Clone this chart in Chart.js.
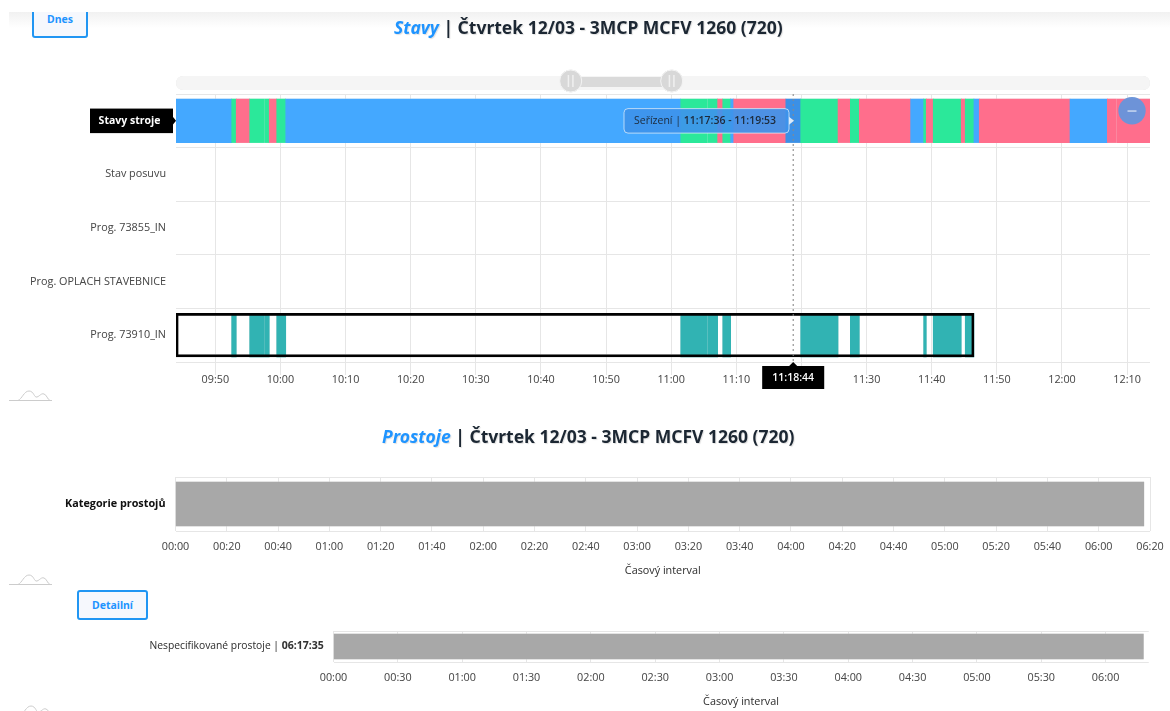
<!DOCTYPE html>
<html lang="cs">
<head>
<meta charset="utf-8">
<title>Stavy a prostoje</title>
<script src="https://cdn.jsdelivr.net/npm/chart.js@4"></script>
<style>
  html, body { margin: 0; padding: 0; background: #fff; overflow: hidden; }
  #page { position: relative; width: 1170px; height: 711px; filter: blur(0.35px); font-family: "Noto Sans", sans-serif; overflow: hidden; }
  #band { position: absolute; left: 9px; right: 0; top: 12px; height: 16px; background: linear-gradient(#f1f1f1, #fff); }
  canvas { position: absolute; left: 0; filter: drop-shadow(.5px .5px .6px rgba(0,0,0,.12)); }
  .btn { position: absolute; box-sizing: border-box; border: 2px solid #2196f3; border-radius: 3px; background: #f6f8fd; color: #1f94ff; font-weight: 700; font-size: 10.5px; text-align: center; }
  #dnes { left: 32px; top: 4px; width: 56px; height: 34px; line-height: 27px; clip-path: inset(8px -2px -2px -2px); }
  #detail { left: 77px; top: 590px; width: 71px; height: 30px; line-height: 26px; }
  h2 { position: absolute; margin: 0; font-size: 17.5px; font-weight: 700; color: #1c2733; white-space: nowrap; text-shadow: 1px 1px 1px rgba(0,0,0,.12); }
  h2 i { color: #1f94ff; }
  svg { position: absolute; }
</style>
</head>
<body>
<div id="page">
  <div id="band"></div>
  <div id="dnes" class="btn">Dnes</div>
  <h2 style="left:394px;top:15px"><i>Stavy</i> | Čtvrtek 12/03 - 3MCP MCFV 1260 (720)</h2>
  <h2 style="left:382px;top:424px"><i>Prostoje</i> | Čtvrtek 12/03 - 3MCP MCFV 1260 (720)</h2>
  <canvas id="stateChart" width="1170" height="345" style="top:60px"></canvas>
  <canvas id="categoryChart" width="1170" height="117" style="top:460px"></canvas>
  <div id="detail" class="btn">Detailní</div>
  <canvas id="detailChart" width="1170" height="86" style="top:622px"></canvas>
  <svg style="left:9px;top:388px" width="44" height="14"><path d="M0 12.5H43M9 12.5C13 11 15 3 20 3S25 10 28 9 32 5 35 6 38 11 41 12.5" fill="none" stroke="#ccc"/></svg>
  <svg style="left:9px;top:572px" width="44" height="14"><path d="M0 12.5H43M9 12.5C13 11 15 3 20 3S25 10 28 9 32 5 35 6 38 11 41 12.5" fill="none" stroke="#ccc"/></svg>
  <svg style="left:11px;top:703px" width="44" height="14"><path d="M0 12.5H43M9 12.5C13 11 15 3 20 3S25 10 28 9 32 5 35 6 38 11 41 12.5" fill="none" stroke="#ccc"/></svg>
</div>
<script>
const rowLabels = ["Stavy stroje", "Stav posuvu", "Prog. 73855_IN", "Prog. OPLACH STAVEBNICE", "Prog. 73910_IN"];

const stateStarts = ["09:43:58", "09:52:31", "09:53:13", "09:55:17", "09:57:34", "09:58:17", "09:59:26", "10:00:49", "11:01:28", "11:05:39", "11:07:08", "11:07:55", "11:09:08", "11:09:36", "11:17:36", "11:19:53", "11:25:37", "11:27:30", "11:28:53", "11:36:46", "11:38:46", "11:39:10", "11:40:14", "11:44:32", "11:45:09", "11:46:29", "11:47:18", "12:01:14", "12:06:58", "12:08:27"];
const stateEnds = ["09:52:31", "09:53:13", "09:55:17", "09:57:28", "09:58:17", "09:59:26", "10:00:49", "11:01:28", "11:05:33", "11:07:08", "11:07:55", "11:09:08", "11:09:36", "11:17:36", "11:19:53", "11:25:37", "11:27:30", "11:28:53", "11:36:46", "11:38:46", "11:39:10", "11:40:14", "11:44:32", "11:45:09", "11:46:29", "11:47:18", "12:01:14", "12:06:58", "12:08:21", "12:13:31"];
const stateNames = ["Seřízení", "Výroba", "Prostoj", "Výroba", "Výroba", "Prostoj", "Výroba", "Seřízení", "Výroba", "Výroba", "Prostoj", "Výroba", "Seřízení", "Prostoj", "Seřízení", "Výroba", "Prostoj", "Výroba", "Prostoj", "Seřízení", "Výroba", "Prostoj", "Výroba", "Prostoj", "Výroba", "Seřízení", "Prostoj", "Seřízení", "Prostoj", "Prostoj"];

const programStarts = ["09:52:31", "09:55:17", "09:57:34", "09:59:26", "11:01:28", "11:05:39", "11:07:55", "11:19:53", "11:27:30", "11:38:46", "11:40:14", "11:45:09"];
const programEnds = ["09:53:13", "09:57:28", "09:58:17", "10:00:49", "11:05:33", "11:07:08", "11:09:08", "11:25:37", "11:28:53", "11:39:10", "11:44:32", "11:46:29"];

const stateTicks = ["09:50", "10:00", "10:10", "10:20", "10:30", "10:40", "10:50", "11:00", "11:10", "11:20", "11:30", "11:40", "11:50", "12:00", "12:10"];
const categoryTicks = ["00:00", "00:20", "00:40", "01:00", "01:20", "01:40", "02:00", "02:20", "02:40", "03:00", "03:20", "03:40", "04:00", "04:20", "04:40", "05:00", "05:20", "05:40", "06:00", "06:20"];
const detailTicks = ["00:00", "00:30", "01:00", "01:30", "02:00", "02:30", "03:00", "03:30", "04:00", "04:30", "05:00", "05:30", "06:00"];

const downtimeLabel = "Kategorie prostojů";
const downtimeName = "Nespecifikované prostoje";
const downtimeTotal = "06:17:35";
const pointerTime = "11:18:44";

const stateColors = { "Seřízení": "#44a8ff", "Výroba": "#2be89a", "Prostoj": "#ff6e8c" };
const gridColor = "#e6e6e6";
const tickFont = { family: "Open Sans", size: 10.8 };
const boldFont = "700 10.5px 'Open Sans'";
const textFont = "10.3px 'Open Sans'";

// clock text to minutes from midnight
function toMin(t) {
  const [h, m, s = 0] = t.split(":").map(Number);
  return h * 60 + m + s / 60;
}
function fmtTick(v) {
  const h = Math.floor(v / 60), m = Math.round(v - h * 60);
  return String(h).padStart(2, "0") + ":" + String(m).padStart(2, "0");
}
// writes text made of several font runs, starting from x
function drawRuns(ctx, runs, x, y) {
  ctx.textAlign = "left";
  ctx.textBaseline = "middle";
  runs.forEach(r => {
    ctx.font = r.font;
    ctx.fillText(r.text, x, y);
    x += ctx.measureText(r.text).width;
  });
}
function xAxis(ticks, min, max, height, extra) {
  return Object.assign({
    type: "linear",
    min: min,
    max: max,
    border: { display: false },
    grid: { color: gridColor, drawTicks: false },
    afterBuildTicks: a => { a.ticks = ticks.map(t => ({ value: toMin(t) })); },
    afterFit: a => { a.height = height; a.paddingLeft = a.paddingRight = 0; },
    ticks: { font: tickFont, color: "#4a4a4a", padding: 9, maxRotation: 0, autoSkip: false, callback: v => fmtTick(v) },
  }, extra);
}
function yAxis(width, labels, ticks) {
  return {
    type: "category",
    labels: labels,
    offset: true,
    border: { display: false },
    grid: { color: gridColor, offset: true, drawTicks: false },
    afterFit: a => { a.width = width; a.paddingTop = a.paddingBottom = 0; },
    ticks: Object.assign({ font: tickFont, color: "#4a4a4a", padding: 10, autoSkip: false }, ticks),
  };
}

const pointerMin = toMin(pointerTime);
const stateData = stateStarts.map((s, i) => ({ x: [toMin(s), toMin(stateEnds[i])], y: rowLabels[0] }));
const programData = programStarts.map((s, i) => ({ x: [toMin(s), toMin(programEnds[i])], y: rowLabels[4] }));
const outlineData = [{ x: [toMin(stateStarts[0]), toMin(programEnds[programEnds.length - 1])], y: rowLabels[4] }];

const stateOverlay = {
  id: "stateOverlay",
  beforeDraw(chart) {
    const ctx = chart.ctx, area = chart.chartArea;
    ctx.save();
    // zoom slider above the plot
    ctx.fillStyle = "#f5f5f5";
    ctx.beginPath();
    ctx.roundRect(area.left, 16, area.right - area.left, 14, 7);
    ctx.fill();
    ctx.fillStyle = "#dadada";
    ctx.fillRect(580, 17, 84, 10);
    [570.7, 671.7].forEach(cx => {
      ctx.beginPath();
      ctx.arc(cx, 21, 11, 0, Math.PI * 2);
      ctx.fillStyle = "#d8d8d8";
      ctx.fill();
      ctx.strokeStyle = "#f4f4f4";
      ctx.stroke();
      ctx.fillStyle = "#f0f0f0";
      ctx.fillRect(cx - 3, 15, 1.5, 12);
      ctx.fillRect(cx + 1.5, 15, 1.5, 12);
    });
    ctx.restore();
  },
  afterDraw(chart) {
    const ctx = chart.ctx, x = chart.scales.x, y = chart.scales.y;
    const rowY = y.getPixelForValue(0);
    const px = x.getPixelForValue(pointerMin);
    ctx.save();
    // hovered time line
    ctx.strokeStyle = "#8a8a8a";
    ctx.setLineDash([2, 3]);
    ctx.beginPath();
    ctx.moveTo(px, chart.chartArea.top);
    ctx.lineTo(px, chart.chartArea.bottom + 3);
    ctx.stroke();
    ctx.setLineDash([]);

    // black tag with the active row name
    ctx.fillStyle = "#000";
    ctx.fillRect(90, rowY - 12.2, 83, 24.5);
    ctx.beginPath();
    ctx.moveTo(172, rowY - 5);
    ctx.lineTo(176, rowY);
    ctx.lineTo(172, rowY + 5);
    ctx.fill();
    ctx.fillStyle = "#fff";
    ctx.font = boldFont;
    ctx.textAlign = "center";
    ctx.textBaseline = "middle";
    ctx.fillText(rowLabels[0], 129.5, rowY);

    // tooltip of the hovered state
    const i = stateStarts.findIndex((s, k) => toMin(s) <= pointerMin && pointerMin < toMin(stateEnds[k]));
    ctx.fillStyle = "rgba(62,148,235,.92)";
    ctx.strokeStyle = "rgba(225,238,250,.75)";
    ctx.beginPath();
    ctx.roundRect(624, rowY - 12.2, 165, 24.5, 4);
    ctx.fill();
    ctx.stroke();
    ctx.beginPath();
    ctx.moveTo(789, rowY - 4);
    ctx.lineTo(794, rowY);
    ctx.lineTo(789, rowY + 4);
    ctx.fillStyle = "#dcebfa";
    ctx.fill();
    ctx.fillStyle = "#1d2a3a";
    drawRuns(ctx, [
      { font: "10.5px 'Open Sans'", text: stateNames[i] + " | " },
      { font: "600 10.5px 'Open Sans'", text: stateStarts[i] + " - " + stateEnds[i] },
    ], 634, rowY);

    // time label under the hovered line
    const boxY = chart.chartArea.bottom + 4;
    ctx.fillStyle = "#000";
    ctx.fillRect(px - 31, boxY, 62, 23);
    ctx.beginPath();
    ctx.moveTo(px - 4, boxY);
    ctx.lineTo(px, boxY - 4);
    ctx.lineTo(px + 4, boxY);
    ctx.fill();
    ctx.fillStyle = "#fff";
    ctx.font = "600 10.5px 'Open Sans'";
    ctx.textAlign = "center";
    ctx.fillText(pointerTime, px, boxY + 12);

    // collapse button
    ctx.fillStyle = "rgba(104,149,219,.97)";
    ctx.beginPath();
    ctx.arc(1132, rowY - 10, 13.7, 0, Math.PI * 2);
    ctx.fill();
    ctx.fillStyle = "#c9d8f0";
    ctx.fillRect(1127.5, rowY - 10.5, 9, 1.5);
    ctx.restore();
  },
};

new Chart(document.getElementById("stateChart").getContext("2d"), {
  type: "bar",
  plugins: [stateOverlay],
  data: {
    labels: rowLabels,
    datasets: [
      // first dataset paints last, the outline stays above the teal bars
      { data: outlineData, backgroundColor: "transparent", borderColor: "#000", borderWidth: 2, borderSkipped: false },
      { data: programData, backgroundColor: "#31b3b3" },
      {
        data: stateData,
        backgroundColor: stateData.map((d, i) => (d.x[0] <= pointerMin && pointerMin < d.x[1]) ? "#3b90e6" : stateColors[stateNames[i]]),
      },
    ],
  },
  options: {
    indexAxis: "y",
    responsive: false,
    animation: false,
    events: [],
    layout: { padding: { top: 34, right: 20 } },
    datasets: { bar: { barThickness: 43.5, grouped: false } },
    scales: {
      x: xAxis(stateTicks, toMin(stateStarts[0]), toMin(stateEnds[stateEnds.length - 1]), 43, {
        grid: { color: gridColor, tickLength: 13 },
        ticks: { font: tickFont, color: "#4a4a4a", padding: -2, maxRotation: 0, autoSkip: false, callback: v => fmtTick(v) },
      }),
      y: yAxis(176, rowLabels, {
        callback(v) { return v === 0 ? "" : this.getLabelForValue(v); },
      }),
    },
    plugins: { legend: { display: false }, tooltip: { enabled: false } },
  },
});

new Chart(document.getElementById("categoryChart").getContext("2d"), {
  type: "bar",
  data: {
    labels: [downtimeLabel],
    datasets: [{ data: [{ x: [0, toMin(downtimeTotal)], y: downtimeLabel }], backgroundColor: "#a8a8a8" }],
  },
  options: {
    indexAxis: "y",
    responsive: false,
    animation: false,
    events: [],
    layout: { padding: { top: 17, right: 20 } },
    datasets: { bar: { barThickness: 44 } },
    scales: {
      x: xAxis(categoryTicks, 0, 380, 46, {
        title: { display: true, text: "Časový interval", font: tickFont, color: "#333", padding: 0 },
      }),
      y: yAxis(175.5, [downtimeLabel], { font: { family: "Open Sans", size: 10.8, weight: "700" }, color: "#111" }),
    },
    plugins: { legend: { display: false }, tooltip: { enabled: false } },
  },
});

const detailLabel = {
  id: "detailLabel",
  afterDraw(chart) {
    const ctx = chart.ctx, y = chart.scales.y.getPixelForValue(0);
    ctx.save();
    ctx.fillStyle = "#333";
    ctx.font = textFont;
    const w1 = ctx.measureText(downtimeName + " | ").width;
    ctx.font = boldFont;
    const w2 = ctx.measureText(downtimeTotal).width;
    drawRuns(ctx, [
      { font: textFont, text: downtimeName + " | " },
      { font: boldFont, text: downtimeTotal },
    ], 323.7 - w1 - w2, y);
    ctx.restore();
  },
};

new Chart(document.getElementById("detailChart").getContext("2d"), {
  type: "bar",
  plugins: [detailLabel],
  data: {
    labels: [downtimeName],
    datasets: [{ data: [{ x: [0, toMin(downtimeTotal)], y: downtimeName }], backgroundColor: "#a8a8a8" }],
  },
  options: {
    indexAxis: "y",
    responsive: false,
    animation: false,
    events: [],
    layout: { padding: { top: 9, right: 21.5 } },
    datasets: { bar: { barThickness: 25 } },
    scales: {
      x: xAxis(detailTicks, 0, 380, 46, {
        title: { display: true, text: "Časový interval", font: tickFont, color: "#333", padding: 0 },
      }),
      y: yAxis(333.5, [downtimeName], { callback: () => "" }),
    },
    plugins: { legend: { display: false }, tooltip: { enabled: false } },
  },
});
</script>
</body>
</html>
